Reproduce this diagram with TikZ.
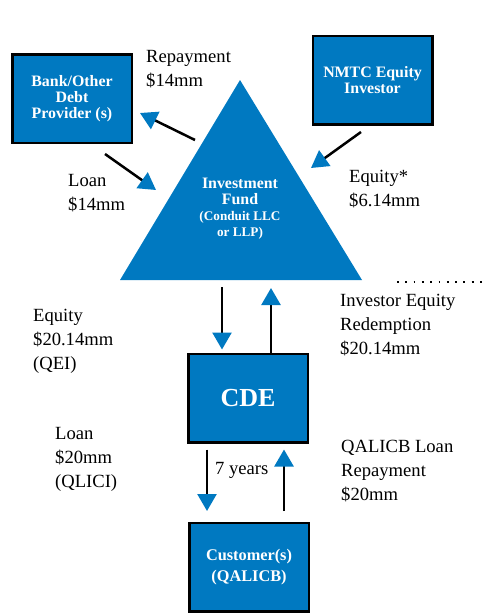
\documentclass[tikz,border=0pt]{standalone}
\usepackage{fontspec}
\setmainfont{Liberation Serif}
\usetikzlibrary{arrows.meta,calc}
\definecolor{ndblue}{RGB}{0,121,193}
\begin{document}
\begin{tikzpicture}[x=1pt,y=-1pt,
  box/.style={draw=black,line width=2.5pt,fill=ndblue,minimum width=119.5pt,minimum height=88.5pt,inner sep=0pt,text=white,font=\bfseries\fontsize{15.9}{16}\selectfont,align=center},
  lbl/.style={anchor=base west,inner sep=0pt,align=left,font=\fontsize{18.6}{24}\selectfont},
  arr/.style={line width=2.5pt,draw=black,-{Triangle[length=17pt,width=19pt,color=ndblue]}},
  dots/.style={line width=1.8pt,dash pattern=on 1.8pt off 6.5pt}]
\useasboundingbox (0,0) rectangle (484,613);
% boxes
\node[box] (bank) at (72,98.5) {Bank/Other\\Debt\\Provider (s)};
\node[box] (nmtc) at (372.5,80) {NMTC Equity\\Investor};
\node[box,font=\bfseries\fontsize{26}{30}\selectfont] (cde) at (248,398) {CDE};
\node[box,font=\bfseries\fontsize{16.3}{21}\selectfont] (cust) at (249,567) {Customer(s)\\(QALICB)};
% triangle
\coordinate (apex) at (240,80);
\coordinate (bl) at (120,280);
\coordinate (br) at (362,280);
\fill[ndblue] (apex) -- (bl) -- (br) -- cycle;
\node[text=white,align=center,inner sep=0pt,font=\bfseries\fontsize{15.9}{16}\selectfont] (fund) at (240,209)
  {Investment\\Fund\\{\fontsize{13.2}{16}\selectfont(Conduit LLC}\\{\fontsize{13.2}{16}\selectfont or LLP)}};
% arrows
\coordinate (r1) at (195,140); \coordinate (r2) at (140,113);
\coordinate (l1) at (105,154); \coordinate (l2) at (156,190);
\coordinate (e1) at (361,132); \coordinate (e2) at (311,168);
\draw[arr] (r1) -- (r2);
\draw[arr] (l1) -- (l2);
\draw[arr] (e1) -- (e2);
\coordinate (a1) at (222,287);
\coordinate (b1) at (271,288);
\coordinate (c2) at (207,511);
\coordinate (d1) at (284,511);
\draw[arr] (a1) -- ($(a1 |- cde.north)+(0,-3)$);
\draw[arr] (b1 |- cde.north) -- (b1);
\draw[arr] ($(c2 |- cde.south)+(0,6)$) -- (c2);
\draw[arr] (d1) -- ($(d1 |- cde.south)+(0,6)$);
% dotted line
\coordinate (dt1) at (397,282); \coordinate (dt2) at (484,282);
\draw[dots] (dt1) -- (dt2);
% labels
\node[lbl] (lrep) at (146,86) {Repayment\\\$14mm};
\node[lbl] (lloan) at (68,210) {Loan\\\$14mm};
\node[lbl] (leq) at (349,206) {Equity*\\\$6.14mm};
\node[lbl] (lqei) at (33,369) {Equity\\\$20.14mm\\(QEI)};
\node[lbl] (lred) at (340,354) {Investor Equity\\Redemption\\\$20.14mm};
\node[lbl] (lqlici) at (55,487) {Loan\\\$20mm\\(QLICI)};
\node[lbl] (l7) at (215,474) {7 years};
\node[lbl] (lqal) at (341,500) {QALICB Loan\\Repayment\\\$20mm};
\end{tikzpicture}
\end{document}
